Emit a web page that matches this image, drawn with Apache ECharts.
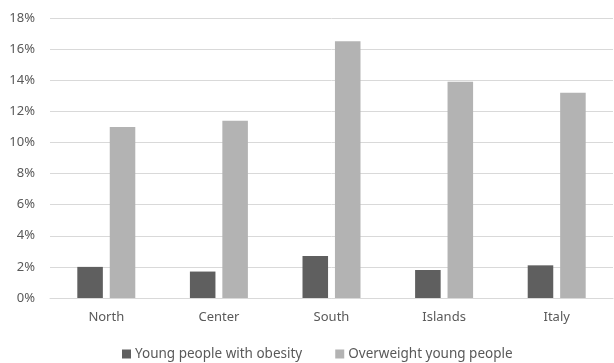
<!DOCTYPE html>
<html><head><meta charset="utf-8">
<script src="https://cdn.jsdelivr.net/npm/echarts@6/dist/echarts.min.js"></script>
<style>html,body{margin:0;padding:0;background:#fff}#c{width:614px;height:363px}</style>
</head><body><div id="c"></div>
<script>
const categories = ['North', 'Center', 'South', 'Islands', 'Italy'];
const obesity = [2.0, 1.7, 2.7, 1.8, 2.1];
const overweight = [11.0, 11.4, 16.5, 13.9, 13.2];
const seriesNames = ['Young people with obesity', 'Overweight young people'];

const chart = echarts.init(document.getElementById('c'));
const font = 'Noto Sans';
chart.setOption({
  animation: false,
  textStyle: { fontFamily: font },
  grid: { left: 50, right: 1, top: 18, bottom: 65, containLabel: false },
  legend: {
    top: 347, left: 122, padding: 0, itemWidth: 9, itemHeight: 9, itemGap: 33,
    icon: 'rect',
    textStyle: { color: '#595959', fontSize: 13.5, fontFamily: font, padding: [0, 0, 0, -1] },
    data: seriesNames
  },
  xAxis: {
    type: 'category', data: categories,
    axisTick: { show: false },
    axisLine: { lineStyle: { color: '#d9d9d9' } },
    axisLabel: { color: '#595959', fontSize: 13, margin: 13, fontFamily: font }
  },
  yAxis: {
    type: 'value', min: 0, max: 18, interval: 2,
    axisLabel: { formatter: '{value}%', color: '#595959', fontSize: 13, margin: 15, fontFamily: font },
    splitLine: { lineStyle: { color: '#d9d9d9' } },
    axisLine: { show: false }, axisTick: { show: false }
  },
  series: [
    { name: seriesNames[0], type: 'bar', data: obesity, barGap: '27%', barCategoryGap: '48.5%', itemStyle: { color: '#5f5f5f' } },
    { name: seriesNames[1], type: 'bar', data: overweight, itemStyle: { color: '#b3b3b3' } }
  ]
});
</script></body></html>
